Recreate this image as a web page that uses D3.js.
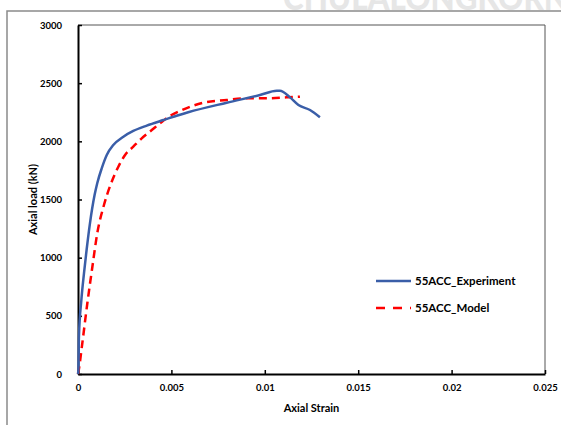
<!DOCTYPE html>
<html>
<head>
<meta charset="utf-8">
<script src="https://cdn.jsdelivr.net/npm/d3@7"></script>
<style>
  html, body { margin: 0; padding: 0; background: #fff; }
  svg { display: block; }
  text { font-family: Lato, "Liberation Sans", sans-serif; font-weight: bold; fill: #000; }
</style>
</head>
<body>
<svg id="chart" width="561" height="425"></svg>
<script>
// Axial load vs. axial strain, specimen 55ACC
const expStrain = [0, 0.00002, 0.00005, 0.00018, 0.00032, 0.00046, 0.00064, 0.00089, 0.00103, 0.00127, 0.00154, 0.00189, 0.00243, 0.00296, 0.00368, 0.00457, 0.00528, 0.0059, 0.00796, 0.00974, 0.01064, 0.01081, 0.01135, 0.0118, 0.01242, 0.01295];
const expLoad   = [0, 34, 320, 636, 866, 1066, 1295, 1540, 1640, 1768, 1883, 1968, 2040, 2089, 2135, 2183, 2220, 2250, 2332, 2398, 2435, 2435, 2378, 2312, 2269, 2207];

const modelStrain = [0, 0.00004, 0.00023, 0.0005, 0.00077, 0.00103, 0.00139, 0.00175, 0.00216, 0.00252, 0.00296, 0.00341, 0.00395, 0.00439, 0.00492, 0.00546, 0.00671, 0.00796, 0.00903, 0.0101, 0.01117, 0.01188];
const modelLoad   = [0, 34, 264, 608, 922, 1209, 1453, 1630, 1782, 1883, 1954, 2026, 2097, 2155, 2218, 2261, 2332, 2355, 2370, 2370, 2378, 2384];

const xTicks = [0, 0.005, 0.01, 0.015, 0.02, 0.025];
const yTicks = [0, 500, 1000, 1500, 2000, 2500, 3000];
const seriesNames = ["55ACC_Experiment", "55ACC_Model"];

const svg = d3.select("#chart");
const plotLeft = 78, plotRight = 545, plotTop = 25, plotBottom = 374;

const x = d3.scaleLinear().domain([0, 0.025]).range([plotLeft, plotRight]);
const y = d3.scaleLinear().domain([0, 3000]).range([plotBottom, plotTop]);

// faint banner text behind the frame
svg.append("text")
  .attr("x", 283).attr("y", 10)
  .attr("textLength", 285).attr("lengthAdjust", "spacingAndGlyphs")
  .style("font-size", "34px").style("font-weight", "900")
  .style("fill", "#e6e6e6")
  .text("CHULALONGKORN");

// outer chart frame
svg.append("rect")
  .attr("x", 7).attr("y", 11).attr("width", 570).attr("height", 430)
  .attr("fill", "none").attr("stroke", "#8a8a8a").attr("stroke-width", 1.5);

// plot area outline (top/right)
svg.append("path")
  .attr("d", `M${plotLeft},${plotTop}H${plotRight}V${plotBottom}`)
  .attr("fill", "none").attr("stroke", "#555").attr("stroke-width", 1);

// axes
const xAxis = d3.axisBottom(x).tickValues(xTicks).tickSizeInner(-4).tickSizeOuter(0).tickPadding(10)
  .tickFormat(d => d === 0 ? "0" : String(+d.toFixed(3)));
const yAxis = d3.axisLeft(y).tickValues(yTicks).tickSizeInner(-4).tickSizeOuter(0).tickPadding(16)
  .tickFormat(d3.format("d"));

const gx = svg.append("g").attr("transform", `translate(0,${plotBottom})`).call(xAxis);
const gy = svg.append("g").attr("transform", `translate(${plotLeft},0)`).call(yAxis);
[gx, gy].forEach(g => {
  g.select(".domain").attr("stroke", "#000").attr("stroke-width", 2);
  g.selectAll(".tick line").attr("stroke", "#000").attr("stroke-width", 1.5);
  g.selectAll(".tick text").style("font-size", "9.5px").style("font-family", "Lato, sans-serif").style("font-weight", "bold").attr("fill", "#000");
});

// axis titles
svg.append("text").attr("x", (plotLeft + plotRight) / 2).attr("y", 412)
  .attr("text-anchor", "middle").style("font-size", "11px").text("Axial Strain");
svg.append("text")
  .attr("transform", `translate(37,${(plotTop + plotBottom) / 2}) rotate(-90)`)
  .attr("text-anchor", "middle").style("font-size", "11px").text("Axial load (kN)");

// series
const expData = expStrain.map((s, i) => [s, expLoad[i]]);
const modelData = modelStrain.map((s, i) => [s, modelLoad[i]]);

const lineExp = d3.line().x(d => x(d[0])).y(d => y(d[1])).curve(d3.curveMonotoneX);
const lineModel = d3.line().x(d => x(d[0])).y(d => y(d[1])).curve(d3.curveMonotoneX);

svg.append("path").datum(modelData).attr("d", lineModel)
  .attr("fill", "none").attr("stroke", "#ff0000").attr("stroke-width", 2.5)
  .attr("stroke-dasharray", "8,5");
svg.append("path").datum(expData).attr("d", lineExp)
  .attr("fill", "none").attr("stroke", "#3a5ea8").attr("stroke-width", 2.5)
  .attr("stroke-linejoin", "round");

// legend
const legend = svg.append("g");
const legendRows = [
  { name: seriesNames[0], color: "#3a5ea8", dash: null, y: 281 },
  { name: seriesNames[1], color: "#ff0000", dash: "9,8", y: 308 }
];
legendRows.forEach(r => {
  legend.append("line").attr("x1", 376).attr("x2", 411).attr("y1", r.y).attr("y2", r.y)
    .attr("stroke", r.color).attr("stroke-width", 2.5)
    .attr("stroke-dasharray", r.dash);
  legend.append("text").attr("x", 415).attr("y", r.y + 4)
    .style("font-size", "11.5px").text(r.name);
});
</script>
</body>
</html>
